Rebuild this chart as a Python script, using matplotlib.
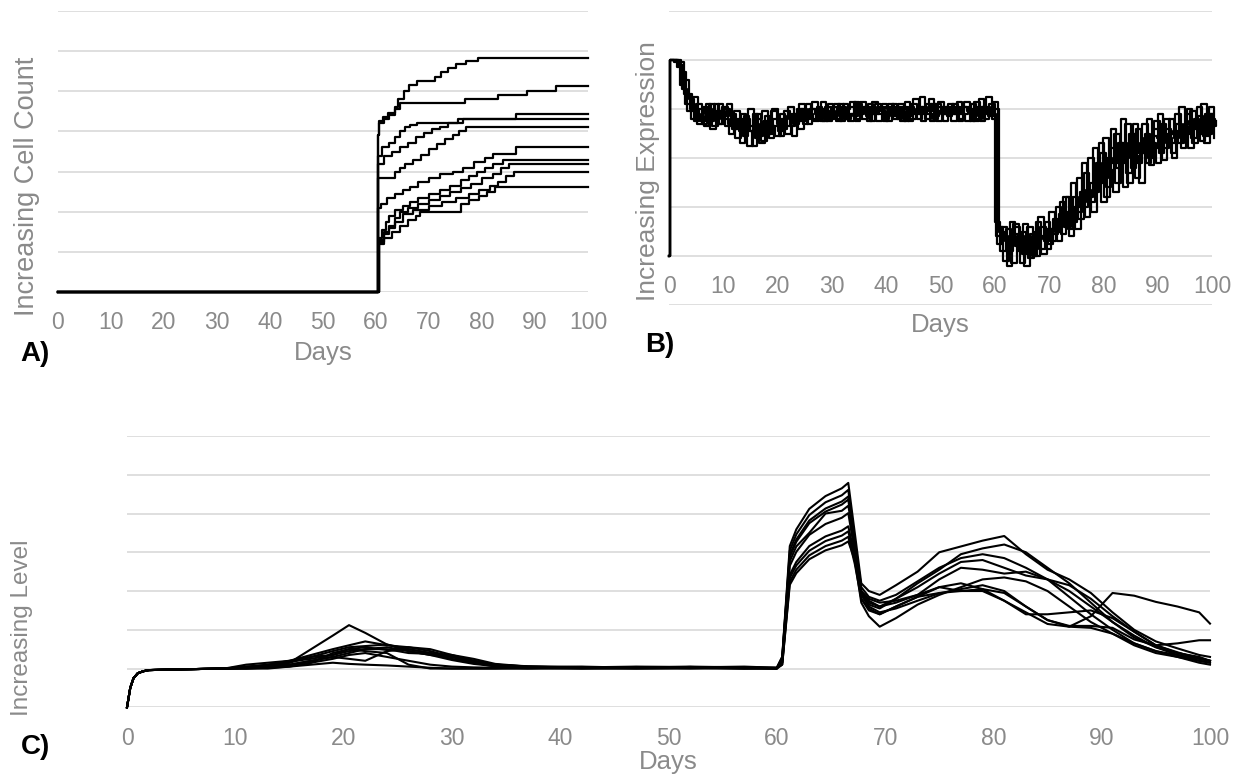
import matplotlib
matplotlib.use("Agg")
import matplotlib.pyplot as plt

plt.rcParams["font.family"] = ["Liberation Sans", "DejaVu Sans"]

GREY_TEXT = "#8a8a8a"
GRID = "#dcdcdc"

# ---------------- panel A: cell counts (step curves) ----------------
A_DAYS = [
    [0, 60.3, 60.6, 61.3, 62.2, 63.5, 64.2, 65.2, 66.2, 67.8, 71.2, 72.3, 73.5, 75.0, 77.0, 79.3, 100],
    [0, 60.3, 60.6, 61.5, 62.5, 63.5, 64.5, 76.8, 83.1, 88.5, 94.0, 100],
    [0, 60.3, 61.2, 62.5, 63.5, 64.5, 65.5, 66.5, 67.8, 76.5, 86.4, 100],
    [0, 60.3, 61.5, 63.0, 64.5, 66.0, 67.5, 69.0, 70.5, 72.0, 73.5, 75.5, 100],
    [0, 60.3, 63.5, 64.5, 65.5, 67.0, 68.5, 70.0, 71.5, 73.0, 74.5, 75.7, 77.0, 100],
    [0, 60.3, 61.0, 62.0, 63.5, 65.0, 66.5, 68.0, 70.0, 72.0, 74.5, 76.5, 78.5, 80.5, 82.0, 86.5, 100],
    [0, 60.5, 61.2, 61.8, 62.5, 63.5, 65.0, 66.5, 68.0, 70.0, 72.0, 74.0, 76.0, 77.5, 79.0, 80.5, 82.0, 84.0, 100],
    [0, 60.5, 61.5, 62.5, 63.5, 64.5, 66.0, 68.0, 70.0, 72.0, 74.0, 76.0, 78.0, 80.0, 82.0, 83.5, 85.0, 100],
    [0, 60.5, 61.5, 62.5, 63.5, 65.0, 67.0, 70.0, 72.5, 75.0, 77.5, 79.5, 81.5, 83.0, 84.5, 86.0, 100],
    [0, 60.5, 61.5, 63.0, 64.5, 66.0, 67.5, 68.3, 76.1, 77.5, 79.5, 81.0, 82.5, 100],
]
A_LEVELS = [
    [0, 3.9, 4.25, 4.35, 4.45, 4.6, 4.8, 5.0, 5.15, 5.25, 5.35, 5.47, 5.57, 5.67, 5.75, 5.83, 5.83],
    [0, 3.9, 4.2, 4.3, 4.4, 4.55, 4.72, 4.8, 4.9, 5.0, 5.12, 5.12],
    [0, 3.4, 3.6, 3.7, 3.85, 4.0, 4.1, 4.15, 4.2, 4.32, 4.43, 4.43],
    [0, 3.2, 3.4, 3.5, 3.6, 3.7, 3.85, 3.95, 4.05, 4.12, 4.2, 4.32, 4.32],
    [0, 2.85, 3.0, 3.1, 3.2, 3.3, 3.42, 3.55, 3.68, 3.8, 3.92, 4.0, 4.11, 4.11],
    [0, 2.1, 2.2, 2.35, 2.45, 2.55, 2.62, 2.75, 2.85, 2.95, 3.0, 3.1, 3.25, 3.35, 3.45, 3.62, 3.62],
    [0, 1.35, 1.55, 1.75, 1.9, 2.05, 2.15, 2.25, 2.35, 2.45, 2.55, 2.65, 2.78, 2.9, 3.0, 3.1, 3.2, 3.3, 3.3],
    [0, 1.25, 1.45, 1.65, 1.85, 2.0, 2.1, 2.2, 2.3, 2.4, 2.5, 2.6, 2.7, 2.85, 2.95, 3.08, 3.2, 3.2],
    [0, 1.3, 1.5, 1.6, 1.75, 1.95, 2.05, 2.15, 2.25, 2.35, 2.45, 2.55, 2.65, 2.75, 2.88, 3.0, 3.0],
    [0, 1.2, 1.35, 1.5, 1.65, 1.8, 1.9, 2.0, 2.2, 2.3, 2.4, 2.5, 2.62, 2.62],
]

# ---------------- panel B: expression (noisy step curves) ----------------
# every run starts at 0, jumps to 4 right after day 0, then one value per day;
# runs were sampled at slightly different times of day (B_PHASE)
B_START_DAYS = [0, 0.2]
B_START = [0.0, 4.0]
B_SAMPLE_DAYS = list(range(1, 101))
B_PHASE = [0.0, 0.2, 0.4, 0.6, 0.8]
B_LEVELS = [
    [3.95, 3.5, 3.1, 2.8, 3.1, 2.7, 3.0, 2.65, 3.1, 2.8,
     2.5, 2.95, 2.3, 2.8, 2.55, 2.9, 2.35, 2.75, 3.0, 2.55,
     2.8, 3.05, 2.7, 3.1, 2.8, 3.0, 2.8, 3.15, 2.75, 3.05,
     2.8, 3.1, 2.75, 3.15, 2.9, 3.05, 2.75, 3.1, 2.95, 2.75,
     3.1, 2.8, 3.05, 2.75, 3.2, 2.9, 3.0, 2.75, 3.1, 2.9,
     3.05, 2.75, 3.15, 2.9, 3.0, 2.75, 3.2, 2.8, 3.1, 0.7,
     0.1, 0.55, -0.15, 0.4, 0.05, 0.6, 0.2, 0.8, 0.3, 0.9,
     0.5, 1.1, 0.6, 1.5, 0.9, 1.9, 1.2, 2.2, 1.5, 2.4,
     1.6, 2.5, 1.9, 2.7, 1.8, 2.6, 2.1, 2.8, 2.2, 2.9,
     2.2, 2.8, 2.4, 3.05, 2.5, 2.95, 2.6, 3.1, 2.5, 2.9],
    [4.0, 3.75, 3.3, 3.05, 2.7, 3.05, 2.75, 3.1, 2.7, 3.0,
     2.85, 2.4, 2.9, 2.55, 2.25, 2.8, 2.95, 2.5, 2.8, 2.45,
     2.95, 2.65, 2.9, 2.75, 3.1, 2.8, 3.05, 2.75, 3.1, 2.85,
     3.1, 2.8, 3.05, 2.75, 3.15, 2.85, 3.05, 2.75, 3.1, 3.0,
     2.8, 3.1, 2.75, 3.05, 2.9, 3.25, 2.8, 3.1, 2.75, 3.05,
     2.85, 3.1, 2.75, 3.05, 2.95, 3.15, 2.75, 3.05, 2.9, 0.4,
     0.6, -0.2, 0.45, 0.1, 0.65, -0.05, 0.5, 0.15, 0.7, 0.3,
     1.0, 0.45, 1.2, 0.7, 1.6, 1.0, 2.0, 1.3, 2.3, 1.2,
     2.2, 1.5, 2.8, 1.7, 2.5, 1.9, 2.7, 2.0, 2.6, 2.1,
     2.8, 2.3, 2.9, 2.2, 2.9, 2.4, 3.05, 2.5, 2.9, 2.6],
    [3.85, 3.4, 2.95, 3.25, 2.85, 2.65, 3.1, 2.8, 2.95, 2.65,
     2.9, 2.6, 2.7, 2.25, 2.9, 2.45, 2.75, 2.4, 2.65, 2.9,
     2.5, 2.9, 2.75, 3.0, 2.7, 3.15, 2.8, 2.95, 2.8, 3.1,
     2.75, 3.0, 3.15, 2.8, 3.0, 2.75, 3.15, 2.9, 2.75, 3.1,
     2.9, 3.05, 3.15, 2.8, 3.0, 2.75, 3.1, 2.95, 3.05, 2.75,
     3.1, 2.9, 2.8, 3.15, 2.75, 3.0, 2.9, 3.25, 2.8, 0.25,
     0.4, 0.1, 0.65, 0.2, -0.2, 0.45, 0.0, 0.6, 0.15, 0.55,
     0.3, 0.9, 0.55, 1.2, 0.75, 1.7, 1.1, 1.6, 2.1, 1.4,
     2.6, 1.8, 2.3, 1.5, 2.7, 2.1, 2.4, 1.85, 2.75, 2.3,
     2.6, 2.1, 2.7, 2.35, 3.0, 2.3, 2.85, 2.45, 3.05, 2.4],
    [3.9, 3.6, 3.2, 2.75, 3.0, 2.9, 2.6, 2.95, 2.85, 3.1,
     2.6, 2.8, 2.45, 3.0, 2.6, 2.3, 2.85, 2.65, 2.45, 2.8,
     2.65, 2.45, 3.0, 2.7, 2.9, 2.75, 3.0, 2.8, 2.95, 2.8,
     3.05, 2.8, 2.9, 3.1, 2.8, 3.1, 2.9, 3.05, 2.8, 2.95,
     3.05, 2.75, 2.95, 3.1, 2.8, 3.05, 2.9, 2.8, 3.15, 2.9,
     2.95, 3.05, 2.9, 2.75, 3.1, 2.8, 3.05, 2.9, 3.15, 0.6,
     -0.1, 0.35, 0.6, -0.15, 0.4, 0.25, 0.7, 0.05, 0.55, 0.45,
     0.75, 1.2, 0.4, 1.0, 1.3, 0.8, 1.5, 1.9, 1.1, 2.0,
     1.9, 2.3, 1.4, 2.2, 2.05, 1.5, 2.5, 2.3, 1.9, 2.7,
     2.4, 2.0, 2.5, 2.65, 2.2, 2.8, 2.5, 2.3, 2.8, 2.7],
    [3.95, 3.3, 3.0, 2.9, 2.75, 3.1, 2.85, 2.7, 3.05, 2.7,
     2.75, 2.55, 2.85, 2.65, 2.4, 2.7, 2.5, 2.95, 2.7, 2.6,
     2.85, 2.7, 2.6, 2.85, 3.0, 2.9, 2.75, 3.05, 2.9, 2.75,
     2.95, 2.9, 2.85, 3.0, 3.05, 2.9, 2.95, 3.0, 3.05, 2.85,
     2.95, 3.0, 2.85, 2.95, 3.05, 2.95, 3.2, 2.85, 2.95, 3.0,
     2.9, 2.95, 3.05, 2.95, 2.85, 3.05, 2.95, 2.85, 3.0, 0.5,
     0.3, 0.7, 0.2, 0.5, 0.3, 0.0, 0.4, 0.35, 0.25, 0.75,
     0.85, 0.6, 0.95, 0.55, 1.1, 1.35, 0.9, 1.8, 1.7, 1.75,
     1.3, 2.1, 2.0, 2.5, 1.6, 2.3, 1.9, 2.45, 2.4, 1.95,
     2.5, 2.55, 2.3, 2.7, 2.75, 2.6, 2.35, 2.9, 2.65, 2.75],
]

# ---------------- panel C: level (smooth curves) ----------------
C_RISE_DAYS = [0, 0.3, 0.6, 1, 1.5, 2, 5]
C_RISE = [0, 0.5, 0.75, 0.88, 0.93, 0.96, 0.98]
C_DAYS = [9, 11, 13, 15, 17, 19, 20.5, 22, 24, 26,
          28, 30, 32, 34, 37, 42, 47, 52, 57, 60,
          60.5, 61.2, 61.8, 63, 64.5, 66, 66.6, 67.2, 67.8, 68.5,
          69.5, 71, 73, 75, 77, 79, 81, 83, 85, 87,
          89, 91, 93, 95, 97, 99, 100]
C_LEVELS = [
    [1.0, 1.02, 1.05, 1.15, 1.5, 1.85, 2.12, 1.92, 1.62, 1.45,
     1.35, 1.22, 1.12, 1.06, 1.04, 1.03, 1.05, 1.04, 1.03, 1.02,
     1.3, 4.16, 4.59, 5.12, 5.45, 5.65, 5.79, 4.5, 3.2, 3.0,
     2.9, 3.15, 3.5, 4.0, 4.15, 4.3, 4.42, 3.95, 3.55, 3.3,
     2.95, 2.45, 2.0, 1.7, 1.52, 1.35, 1.3],
    [1.0, 1.1, 1.15, 1.2, 1.35, 1.5, 1.6, 1.7, 1.6, 1.55,
     1.45, 1.3, 1.2, 1.1, 1.06, 1.04, 1.02, 1.05, 1.03, 1.0,
     1.25, 4.04, 4.46, 4.96, 5.29, 5.47, 5.61, 4.3, 2.9, 2.6,
     2.45, 2.55, 2.75, 2.94, 3.05, 3.15, 3.0, 2.6, 2.25, 2.08,
     2.35, 2.95, 2.88, 2.72, 2.6, 2.45, 2.16],
    [1.0, 1.05, 1.08, 1.15, 1.3, 1.45, 1.55, 1.58, 1.62, 1.5,
     1.4, 1.35, 1.2, 1.1, 1.05, 1.02, 1.04, 1.03, 1.05, 1.02,
     1.3, 3.93, 4.33, 4.82, 5.13, 5.31, 5.44, 4.2, 3.0, 2.75,
     2.6, 2.7, 2.9, 3.1, 3.0, 3.05, 2.95, 2.6, 2.25, 2.1,
     2.1, 2.05, 1.75, 1.6, 1.65, 1.73, 1.73],
    [1.0, 1.02, 1.1, 1.18, 1.25, 1.35, 1.5, 1.55, 1.48, 1.55,
     1.5, 1.35, 1.25, 1.12, 1.05, 1.03, 1.02, 1.04, 1.02, 1.01,
     1.2, 3.88, 4.27, 4.75, 5.05, 5.23, 5.36, 4.1, 2.8, 2.5,
     2.4, 2.6, 2.85, 2.95, 3.0, 3.0, 2.75, 2.45, 2.15, 2.08,
     2.05, 1.9, 1.65, 1.45, 1.35, 1.25, 1.2],
    [1.0, 1.0, 1.02, 1.05, 1.1, 1.15, 1.12, 1.1, 1.08, 1.05,
     1.02, 1.0, 1.0, 1.0, 1.02, 1.0, 1.01, 1.0, 1.02, 1.0,
     1.25, 3.77, 4.15, 4.5, 5.0, 5.07, 5.2, 4.3, 3.1, 2.85,
     2.75, 2.9, 3.25, 3.6, 3.85, 3.95, 3.85, 3.6, 3.3, 2.85,
     2.4, 2.0, 1.65, 1.45, 1.3, 1.15, 1.1],
    [1.0, 1.03, 1.06, 1.1, 1.2, 1.3, 1.25, 1.2, 1.45, 1.5,
     1.4, 1.3, 1.2, 1.1, 1.04, 1.02, 1.03, 1.01, 1.03, 1.02,
     1.2, 3.65, 4.01, 4.45, 4.73, 4.89, 5.01, 4.0, 2.9, 2.65,
     2.55, 2.8, 3.1, 3.45, 3.75, 3.8, 3.6, 3.4, 3.3, 3.15,
     2.8, 2.35, 1.95, 1.6, 1.4, 1.3, 1.2],
    [1.0, 1.0, 1.0, 1.05, 1.15, 1.4, 1.5, 1.45, 1.4, 1.1,
     1.0, 1.0, 1.0, 1.0, 1.0, 1.01, 1.0, 1.02, 1.0, 1.0,
     1.15, 3.42, 3.75, 4.16, 4.41, 4.56, 4.67, 3.9, 3.0, 2.8,
     2.7, 2.75, 2.9, 3.3, 3.6, 3.55, 3.45, 3.5, 3.3, 3.0,
     2.6, 2.2, 1.85, 1.55, 1.35, 1.2, 1.15],
    [1.0, 1.05, 1.1, 1.2, 1.3, 1.35, 1.45, 1.5, 1.55, 1.45,
     1.35, 1.3, 1.15, 1.05, 1.02, 1.0, 1.02, 1.03, 1.0, 1.01,
     1.15, 3.34, 3.66, 4.04, 4.29, 4.43, 4.54, 3.8, 2.7, 2.35,
     2.08, 2.3, 2.65, 2.9, 3.1, 3.3, 3.35, 3.25, 3.0, 2.6,
     2.2, 1.9, 1.6, 1.4, 1.3, 1.2, 1.15],
    [1.0, 1.0, 1.03, 1.08, 1.15, 1.25, 1.35, 1.4, 1.3, 1.2,
     1.1, 1.05, 1.03, 1.02, 1.0, 1.02, 1.0, 1.01, 1.0, 1.0,
     1.1, 3.24, 3.55, 3.92, 4.16, 4.3, 4.4, 3.7, 2.8, 2.55,
     2.4, 2.6, 2.85, 3.1, 3.2, 3.05, 2.75, 2.4, 2.4, 2.45,
     2.5, 2.3, 1.95, 1.6, 1.42, 1.25, 1.2],
    [1.0, 1.02, 1.05, 1.1, 1.2, 1.3, 1.4, 1.5, 1.5, 1.4,
     1.38, 1.25, 1.15, 1.08, 1.03, 1.05, 1.02, 1.04, 1.02, 1.01,
     1.1, 3.16, 3.46, 3.82, 4.05, 4.18, 4.28, 3.8, 2.95, 2.7,
     2.6, 2.8, 3.2, 3.55, 3.95, 4.1, 4.2, 4.0, 3.6, 3.2,
     2.7, 2.2, 1.8, 1.55, 1.4, 1.28, 1.2],
]

TICKS = list(range(0, 101, 10))
W, H = 1250, 776


def px(x, y):
    return x / W, 1 - y / H


def style_axes(ax, ymin, ymax):
    ax.set_xlim(0, 100)
    ax.set_ylim(ymin, ymax)
    ax.set_xticks(TICKS)
    ax.set_yticks(range(ymin, ymax + 1))
    ax.grid(axis="y", color=GRID, lw=1.3)
    ax.set_axisbelow(True)
    for side in ("top", "right", "left", "bottom"):
        ax.spines[side].set_visible(False)
    ax.tick_params(axis="y", length=0, labelleft=False)
    ax.tick_params(axis="x", length=0, pad=14, labelsize=16.5, labelcolor=GREY_TEXT)


fig = plt.figure(figsize=(12.5, 7.76), dpi=100)

# A
axA = fig.add_axes([58 / W, 1 - 292 / H, 530 / W, 281 / H])
style_axes(axA, 0, 7)
for d, v in zip(A_DAYS, A_LEVELS):
    axA.step(d, v, where="post", color="black", lw=1.6, clip_on=False)

# B
axB = fig.add_axes([669 / W, 1 - 305 / H, 543 / W, 294 / H])
style_axes(axB, -1, 5)
axB.spines["bottom"].set_position(("data", 0))
for ph, v in zip(B_PHASE, B_LEVELS):
    days = B_START_DAYS + [d + ph for d in B_SAMPLE_DAYS]
    axB.step(days, B_START + v, where="post", color="black", lw=1.6, clip_on=False)

# C
axC = fig.add_axes([127 / W, 1 - 707.3 / H, 1083 / W, 271.3 / H])
style_axes(axC, 0, 7)
for v in C_LEVELS:
    axC.plot(C_RISE_DAYS + C_DAYS, C_RISE + v, color="black", lw=1.5, clip_on=False)

# axis titles and panel letters
lab = dict(color=GREY_TEXT, ha="center", va="center")
fig.text(*px(323, 353), "Days", fontsize=18.5, **lab)
fig.text(*px(940, 325), "Days", fontsize=18.5, **lab)
fig.text(*px(668, 762), "Days", fontsize=18.5, **lab)
fig.text(*px(27, 186), "Increasing Cell Count", rotation=90, fontsize=19.5, **lab)
fig.text(*px(648, 171), "Increasing Expression", rotation=90, fontsize=19, **lab)
fig.text(*px(22, 628), "Increasing Level", rotation=90, fontsize=17.5, **lab)

tag = dict(color="black", fontsize=20, fontweight="bold", ha="center", va="center")
fig.text(*px(35, 354), "A)", **tag)
fig.text(*px(660, 345), "B)", **tag)
fig.text(*px(35, 747), "C)", **tag)

fig.savefig("out.png", dpi=100)
